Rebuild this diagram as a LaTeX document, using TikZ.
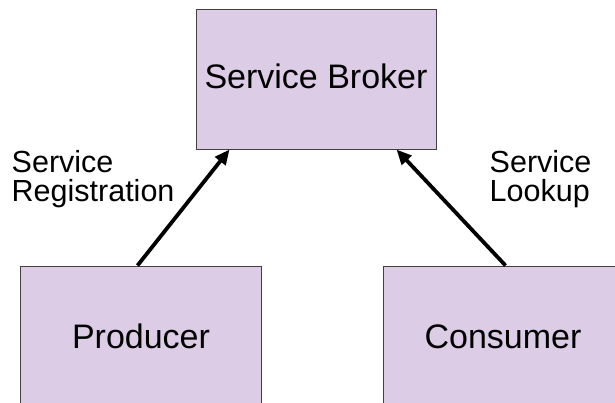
\documentclass[tikz,border=0pt]{standalone}
\usepackage{fontspec}
\setmainfont{Liberation Sans}
\usetikzlibrary{arrows.meta}
\definecolor{boxfill}{RGB}{221,204,230}
\definecolor{boxline}{RGB}{64,64,64}
\tikzset{
  box/.style={draw=boxline, line width=1bp, fill=boxfill, rectangle, inner sep=0pt,
    minimum width=240bp, font=\fontsize{34bp}{40bp}\selectfont,
    text height=24bp, text depth=6bp},
  lbl/.style={inner sep=0pt, align=left, font=\fontsize{30.5bp}{29.5bp}\selectfont},
  arr/.style={line width=3.8bp, -{Triangle[length=15bp,width=13bp]}}
}
\begin{document}
\begin{tikzpicture}[x=1bp,y=-1bp]
\useasboundingbox (0,0) rectangle (615,402);
\clip (0,0) rectangle (615,402);
\node[box, minimum height=140bp] (broker) at (316,79) {Service Broker};
\node[box, minimum height=146bp] (prod) at (141,339) {Producer};
\node[box, minimum height=146bp, minimum width=260bp] (cons) at (513,339) {\hspace*{-20bp}Consumer};
\node[lbl, anchor=north west] (reg) at (11.5,150) {Service\\Registration};
\node[lbl, anchor=north west] (look) at (489.5,150) {Service\\Lookup};
\draw[arr] ([xshift=117bp]prod.north west) -- ([xshift=34bp]broker.south west);
\draw[arr] ([xshift=123bp]cons.north west) -- ([xshift=-40bp]broker.south east);
\end{tikzpicture}
\end{document}
